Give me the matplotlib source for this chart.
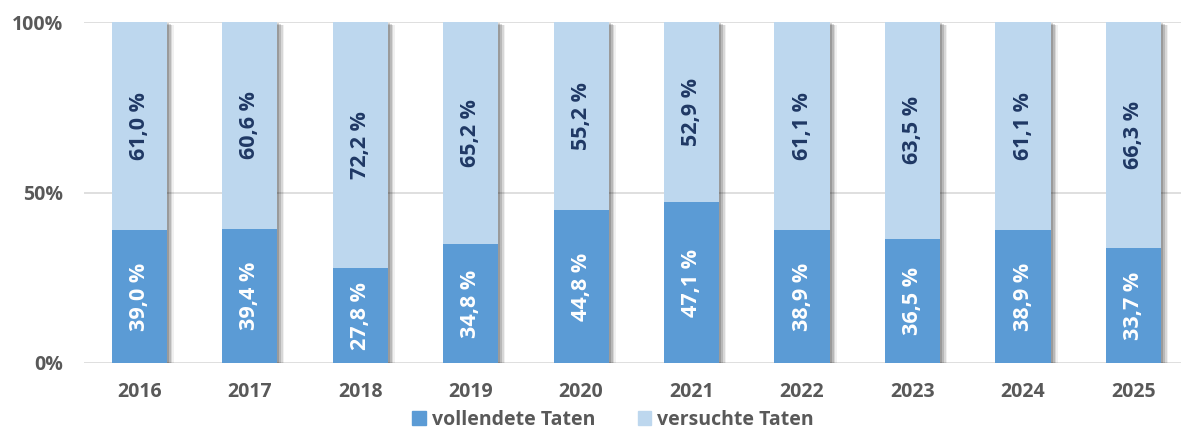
import matplotlib
matplotlib.use("Agg")
import matplotlib.pyplot as plt
import matplotlib.patheffects as pe
from matplotlib.patches import Patch

plt.rcParams["font.family"] = ["Open Sans", "DejaVu Sans"]

# Anteile in Prozent
YEARS = ["2016", "2017", "2018", "2019", "2020", "2021", "2022", "2023", "2024", "2025"]
VOLLENDET = [39.0, 39.4, 27.8, 34.8, 44.8, 47.1, 38.9, 36.5, 38.9, 33.7]
VERSUCHT = [61.0, 60.6, 72.2, 65.2, 55.2, 52.9, 61.1, 63.5, 61.1, 66.3]

C_DARK = "#5B9BD5"
C_LIGHT = "#BDD7EE"
C_TXT = "#595959"
C_NAVY = "#1F3864"


def fmt(v):
    return f"{v:.1f} %".replace(".", ",")


fig = plt.figure(figsize=(11.81, 4.32), dpi=100)
ax = fig.add_axes([84 / 1181, 69 / 432, 1097 / 1181, 341 / 432])

x = list(range(len(YEARS)))
shadow = [
    pe.SimplePatchShadow(offset=(5, -2.5), shadow_rgbFace="#000000", alpha=0.06),
    pe.SimplePatchShadow(offset=(4, -2), shadow_rgbFace="#000000", alpha=0.1),
    pe.SimplePatchShadow(offset=(3, -1.5), shadow_rgbFace="#000000", alpha=0.14),
    pe.SimplePatchShadow(offset=(1.5, -1), shadow_rgbFace="#000000", alpha=0.16),
    pe.Normal(),
]

b1 = ax.bar(x, VOLLENDET, width=0.5, color=C_DARK, zorder=3)
b2 = ax.bar(x, VERSUCHT, bottom=VOLLENDET, width=0.5, color=C_LIGHT, zorder=3)
for r1, r2 in zip(b1, b2):
    r1.set_path_effects(shadow)
    r2.set_path_effects(shadow)
# Balken ohne Schatten nochmal obendrauf, damit Schatten nicht in Nachbarsegmente fällt
ax.bar(x, VOLLENDET, width=0.5, color=C_DARK, zorder=4)
ax.bar(x, VERSUCHT, bottom=VOLLENDET, width=0.5, color=C_LIGHT, zorder=4)

for i, (a, b) in enumerate(zip(VOLLENDET, VERSUCHT)):
    ax.text(i, a / 2, fmt(a), rotation=90, ha="center", va="center",
            color="white", fontsize=15.5, fontweight="bold", zorder=5)
    ax.text(i, a + b / 2, fmt(b), rotation=90, ha="center", va="center",
            color=C_NAVY, fontsize=15.5, fontweight="bold", zorder=5)

ax.set_xlim(-0.5, 9.43)
ax.set_ylim(0, 100)
ax.set_yticks([0, 50, 100])
ax.set_yticklabels(["0%", "50%", "100%"])
ax.set_xticks(x)
ax.set_xticklabels(YEARS)
ax.tick_params(length=0, labelcolor=C_TXT, labelsize=14)
ax.tick_params(axis="y", pad=15)
ax.tick_params(axis="x", pad=14)
for lab in ax.get_xticklabels() + ax.get_yticklabels():
    lab.set_fontweight("bold")

ax.grid(axis="y", color="#D9D9D9", linewidth=1.2, zorder=0)
for s in ax.spines.values():
    s.set_visible(False)

handles = [Patch(color=C_DARK, label="vollendete Taten"),
           Patch(color=C_LIGHT, label="versuchte Taten")]
leg = fig.legend(handles=handles, loc="center", bbox_to_anchor=(613 / 1181, 12 / 432),
                 ncol=2, frameon=False, handlelength=0.7, handleheight=0.7,
                 handletextpad=0.3, columnspacing=2.2, fontsize=14)
for t in leg.get_texts():
    t.set_color(C_TXT)
    t.set_fontweight("bold")

fig.savefig("out.png", dpi=100)
